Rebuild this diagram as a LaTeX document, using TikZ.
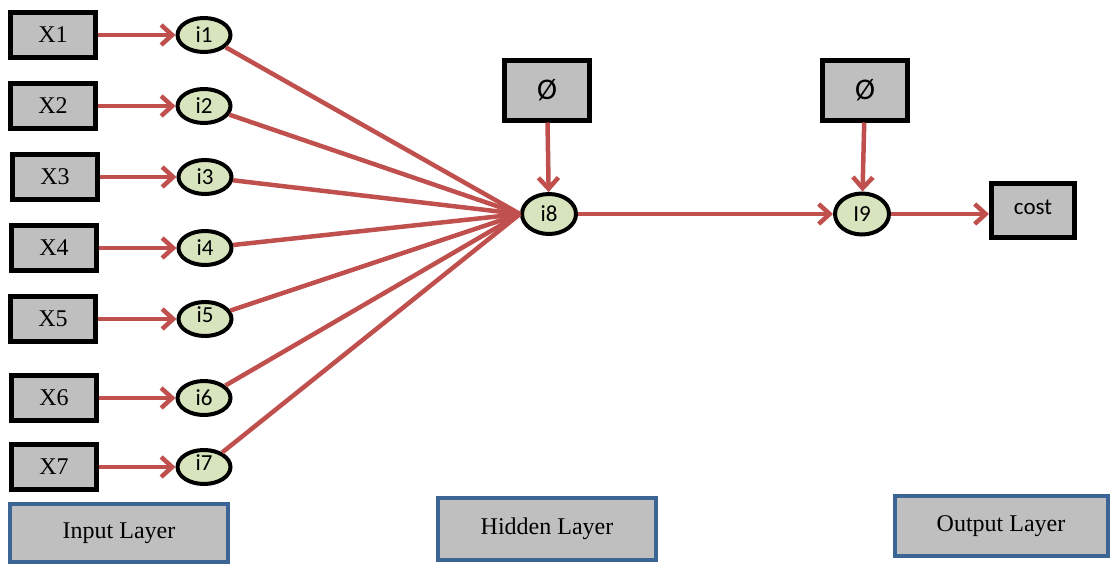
\documentclass[tikz,border=0pt]{standalone}
\usepackage{fontspec}
\setmainfont{Liberation Serif}
\newfontfamily\calib{Carlito}
\usetikzlibrary{arrows.meta,shapes.geometric}
\definecolor{redline}{HTML}{C0504D}
\definecolor{boxgray}{HTML}{BFBFBF}
\definecolor{nodegreen}{HTML}{D7E4BD}
\definecolor{layerblue}{HTML}{3C6494}
\tikzset{
  xbox/.style={draw=black, line width=5pt, fill=boxgray, minimum width=85pt, minimum height=45pt, inner sep=0pt, font=\fontsize{24}{24}\selectfont},
  phibox/.style={draw=black, line width=5pt, fill=boxgray, minimum width=85pt, minimum height=60pt, inner sep=0pt, font=\calib\fontsize{30}{30}\selectfont},
  neuron/.style={ellipse, draw=black, line width=4pt, fill=nodegreen, minimum width=53pt, minimum height=34pt, inner sep=0pt, font=\calib\fontsize{23}{23}\selectfont},
  layerbox/.style={draw=layerblue, line width=4pt, fill=boxgray, inner sep=0pt, font=\fontsize{24}{24}\selectfont},
  conn/.style={draw=redline, line width=4.5pt},
  arr/.style={conn, -{Straight Barb[length=11pt,width=20pt]}},
}
\begin{document}
\begin{tikzpicture}[x=1pt,y=-1pt]
\useasboundingbox (0,0) rectangle (1110,565);
% input boxes
\node[xbox] (x1) at (53,35) {X1};
\node[xbox] (x2) at (53,106) {X2};
\node[xbox] (x3) at (55,177) {X3};
\node[xbox] (x4) at (54,248) {X4};
\node[xbox] (x5) at (53,319) {X5};
\node[xbox] (x6) at (54,398) {X6};
\node[xbox] (x7) at (54,467) {X7};
% input neurons
\node[neuron] (i1) at (204,35) {i1};
\node[neuron] (i2) at (204,106) {i2};
\node[neuron] (i3) at (205,177) {i3};
\node[neuron] (i4) at (205,248) {i4};
\node[neuron] (i5) at (205,319) {\raisebox{8pt}{i5}};
\node[neuron] (i6) at (204,398) {i6};
\node[neuron] (i7) at (204,467) {\raisebox{8pt}{i7}};
% hidden / output
\node[neuron, minimum width=54pt, minimum height=40pt] (i8) at (549,214) {i8};
\node[neuron, minimum width=54pt, minimum height=41pt] (i9) at (862,214) {I9};
\node[phibox] (p1) at (547,90) {Ø};
\node[phibox] (p2) at (865,90) {Ø};
\node[xbox, minimum width=83pt, minimum height=54pt, font=\calib\fontsize{23}{23}\selectfont] (cost) at (1033,210) {\raisebox{5pt}{cost}};
% layer labels
\node[layerbox, minimum width=218pt, minimum height=58pt] (lin) at (119,533) {\raisebox{5pt}{Input Layer}};
\node[layerbox, minimum width=218pt, minimum height=62pt] (lhid) at (547,529) {\raisebox{5pt}{Hidden Layer}};
\node[layerbox, minimum width=213pt, minimum height=60pt] (lout) at (1001,526) {\raisebox{5pt}{Output Layer}};
% connectors
\foreach \k in {1,...,7} {
  \draw[arr] (x\k) -- (i\k);
  \draw[conn] (i\k) -- (i8.west);
}
\draw[arr] (p1) -- (i8);
\draw[arr] (p2) -- (i9);
\draw[arr] (i8) -- (i9);
\draw[arr] (i9) -- (i9 -| cost.west);
\end{tikzpicture}
\end{document}
